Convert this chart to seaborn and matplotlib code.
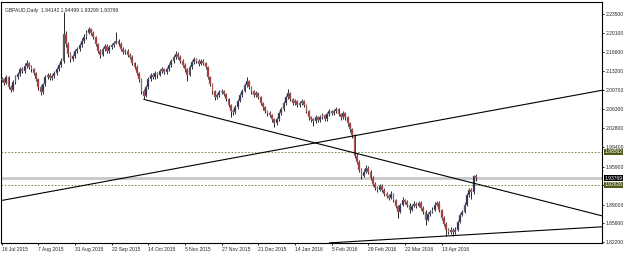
import numpy as np
import pandas as pd
import matplotlib
matplotlib.use("Agg")
import matplotlib.pyplot as plt
import matplotlib.transforms as mtransforms
import seaborn as sns

# GBPAUD daily OHLC (16 Jul 2015 .. early May 2016)
opens = [2.1150, 2.1170, 2.1097, 2.1206, 2.1024, 2.0970, 2.1115, 2.1206, 2.1260, 2.1351,
         2.1315, 2.1406, 2.1460, 2.1388, 2.1351, 2.1279, 2.1170, 2.1024, 2.0933, 2.1079,
         2.1206, 2.1242, 2.1188, 2.1224, 2.1279, 2.1351, 2.1424, 2.1497, 2.1987, 2.1805,
         2.1624, 2.1533, 2.1587, 2.1678, 2.1715, 2.1787, 2.1860, 2.1933, 2.2005, 2.2078,
         2.2005, 2.1933, 2.1805, 2.1678, 2.1606, 2.1715, 2.1769, 2.1678, 2.1751, 2.1787,
         2.1824, 2.1860, 2.1805, 2.1715, 2.1660, 2.1678, 2.1606, 2.1569, 2.1460, 2.1388,
         2.1279, 2.1170, 2.0951, 2.0861, 2.1024, 2.1170, 2.1242, 2.1206, 2.1279, 2.1242,
         2.1315, 2.1351, 2.1297, 2.1351, 2.1424, 2.1497, 2.1569, 2.1624, 2.1569, 2.1497,
         2.1424, 2.1351, 2.1242, 2.1388, 2.1478, 2.1533, 2.1497, 2.1442, 2.1497, 2.1460,
         2.1388, 2.1206, 2.1079, 2.0951, 2.0842, 2.0879, 2.0933, 2.0951, 2.0897, 2.0806,
         2.0697, 2.0588, 2.0570, 2.0661, 2.0770, 2.0879, 2.0951, 2.1060, 2.1133, 2.1024,
         2.0951, 2.0879, 2.0915, 2.0842, 2.0733, 2.0661, 2.0588, 2.0552, 2.0515, 2.0443,
         2.0370, 2.0443, 2.0552, 2.0624, 2.0733, 2.0842, 2.0915, 2.0806, 2.0733, 2.0770,
         2.0697, 2.0733, 2.0770, 2.0697, 2.0588, 2.0479, 2.0443, 2.0406, 2.0479, 2.0425,
         2.0479, 2.0515, 2.0443, 2.0534, 2.0588, 2.0552, 2.0588, 2.0624, 2.0534, 2.0479,
         2.0552, 2.0479, 2.0370, 2.0261, 2.0152, 1.9789, 1.9680, 1.9534, 1.9425, 1.9498,
         1.9571, 1.9498, 1.9389, 1.9280, 1.9207, 1.9171, 1.9243, 1.9171, 1.9098, 1.9062,
         1.9026, 1.9098, 1.8989, 1.8881, 1.8772, 1.8899, 1.8989, 1.8953, 1.8899, 1.8808,
         1.8881, 1.8917, 1.8881, 1.8935, 1.8844, 1.8772, 1.8626, 1.8735, 1.8772, 1.8808,
         1.8899, 1.8935, 1.8808, 1.8662, 1.8553, 1.8444, 1.8408, 1.8444, 1.8408, 1.8444,
         1.8590, 1.8717, 1.8772, 1.8899, 1.9080, 1.9171, 1.9135, 1.94142]
highs = [2.1215, 2.1200, 2.1240, 2.1230, 2.1060, 2.1150, 2.1250, 2.1300, 2.1400, 2.1390,
         2.1460, 2.1510, 2.1490, 2.1420, 2.1380, 2.1300, 2.1200, 2.1060, 2.1110, 2.1240,
         2.1290, 2.1280, 2.1270, 2.1320, 2.1400, 2.1470, 2.1560, 2.2386, 2.2050, 2.1840,
         2.1660, 2.1630, 2.1720, 2.1760, 2.1830, 2.1910, 2.1980, 2.2060, 2.2120, 2.2100,
         2.2040, 2.1960, 2.1830, 2.1710, 2.1750, 2.1810, 2.1800, 2.1790, 2.1830, 2.1870,
         2.2020, 2.1890, 2.1840, 2.1750, 2.1720, 2.1710, 2.1640, 2.1600, 2.1490, 2.1420,
         2.1300, 2.1200, 2.0990, 2.1060, 2.1210, 2.1290, 2.1280, 2.1320, 2.1310, 2.1360,
         2.1400, 2.1380, 2.1390, 2.1470, 2.1540, 2.1610, 2.1680, 2.1660, 2.1600, 2.1530,
         2.1460, 2.1380, 2.1420, 2.1520, 2.1580, 2.1560, 2.1530, 2.1540, 2.1530, 2.1490,
         2.1410, 2.1230, 2.1100, 2.0980, 2.0920, 2.0970, 2.0990, 2.0980, 2.0920, 2.0830,
         2.0720, 2.0630, 2.0700, 2.0810, 2.0920, 2.0990, 2.1100, 2.1206, 2.1160, 2.1050,
         2.0980, 2.0950, 2.0940, 2.0870, 2.0760, 2.0690, 2.0620, 2.0590, 2.0540, 2.0470,
         2.0480, 2.0590, 2.0660, 2.0770, 2.0880, 2.0988, 2.0940, 2.0830, 2.0810, 2.0800,
         2.0770, 2.0810, 2.0800, 2.0720, 2.0610, 2.0510, 2.0470, 2.0520, 2.0510, 2.0520,
         2.0560, 2.0540, 2.0570, 2.0630, 2.0620, 2.0630, 2.0661, 2.0650, 2.0560, 2.0590,
         2.0580, 2.0500, 2.0400, 2.0290, 2.0180, 1.9830, 1.9710, 1.9560, 1.9540, 1.9610,
         1.9600, 1.9520, 1.9420, 1.9310, 1.9240, 1.9280, 1.9270, 1.9200, 1.9130, 1.9090,
         1.9140, 1.9120, 1.9010, 1.8900, 1.8930, 1.9030, 1.9010, 1.8980, 1.8930, 1.8920,
         1.8960, 1.8950, 1.8970, 1.8960, 1.8870, 1.8800, 1.8770, 1.8810, 1.8850, 1.8940,
         1.8970, 1.8960, 1.8830, 1.8690, 1.8580, 1.8480, 1.8490, 1.8470, 1.8490, 1.8630,
         1.8750, 1.8810, 1.8940, 1.9120, 1.9210, 1.9200, 1.9440, 1.94499]
lows = [2.1120, 2.1060, 2.1080, 2.0990, 2.0930, 2.0955, 2.1090, 2.1170, 2.1230, 2.1280,
        2.1290, 2.1380, 2.1350, 2.1300, 2.1240, 2.1130, 2.0980, 2.0880, 2.0910, 2.1050,
        2.1180, 2.1150, 2.1160, 2.1200, 2.1250, 2.1320, 2.1400, 2.1470, 2.1760, 2.1580,
        2.1480, 2.1500, 2.1560, 2.1650, 2.1690, 2.1760, 2.1830, 2.1900, 2.1980, 2.1970,
        2.1890, 2.1770, 2.1640, 2.1560, 2.1590, 2.1690, 2.1640, 2.1650, 2.1720, 2.1760,
        2.1800, 2.1770, 2.1680, 2.1620, 2.1630, 2.1570, 2.1530, 2.1420, 2.1350, 2.1240,
        2.1120, 2.0910, 2.0806, 2.0840, 2.1000, 2.1140, 2.1170, 2.1180, 2.1200, 2.1220,
        2.1290, 2.1260, 2.1270, 2.1320, 2.1400, 2.1470, 2.1540, 2.1530, 2.1460, 2.1390,
        2.1310, 2.1133, 2.1220, 2.1360, 2.1450, 2.1460, 2.1410, 2.1420, 2.1430, 2.1350,
        2.1170, 2.1040, 2.0910, 2.0800, 2.0810, 2.0850, 2.0900, 2.0860, 2.0770, 2.0660,
        2.0479, 2.0520, 2.0540, 2.0640, 2.0750, 2.0850, 2.0930, 2.1030, 2.0990, 2.0910,
        2.0840, 2.0850, 2.0810, 2.0700, 2.0620, 2.0550, 2.0510, 2.0480, 2.0400, 2.0297,
        2.0340, 2.0420, 2.0520, 2.0600, 2.0710, 2.0820, 2.0770, 2.0700, 2.0700, 2.0660,
        2.0670, 2.0700, 2.0660, 2.0550, 2.0440, 2.0400, 2.0320, 2.0380, 2.0390, 2.0400,
        2.0450, 2.0410, 2.0420, 2.0500, 2.0520, 2.0520, 2.0560, 2.0500, 2.0440, 2.0450,
        2.0440, 2.0330, 2.0220, 2.0100, 1.9740, 1.9630, 1.9490, 1.9370, 1.9400, 1.9470,
        1.9460, 1.9350, 1.9240, 1.9170, 1.9130, 1.9140, 1.9130, 1.9060, 1.9020, 1.8990,
        1.9000, 1.8950, 1.8840, 1.8662, 1.8750, 1.8870, 1.8920, 1.8860, 1.8750, 1.8780,
        1.8850, 1.8840, 1.8850, 1.8810, 1.8730, 1.8535, 1.8600, 1.8700, 1.8740, 1.8780,
        1.8870, 1.8770, 1.8620, 1.8510, 1.8335, 1.8360, 1.8370, 1.8340, 1.8360, 1.8420,
        1.8560, 1.8690, 1.8740, 1.8870, 1.9040, 1.8998, 1.9100, 1.93299]
closes = [2.1170, 2.1097, 2.1206, 2.1024, 2.0970, 2.1115, 2.1206, 2.1260, 2.1351, 2.1315,
          2.1406, 2.1460, 2.1388, 2.1351, 2.1279, 2.1170, 2.1024, 2.0933, 2.1079, 2.1206,
          2.1242, 2.1188, 2.1224, 2.1279, 2.1351, 2.1424, 2.1497, 2.1987, 2.1805, 2.1624,
          2.1533, 2.1587, 2.1678, 2.1715, 2.1787, 2.1860, 2.1933, 2.2005, 2.2078, 2.2005,
          2.1933, 2.1805, 2.1678, 2.1606, 2.1715, 2.1769, 2.1678, 2.1751, 2.1787, 2.1824,
          2.1860, 2.1805, 2.1715, 2.1660, 2.1678, 2.1606, 2.1569, 2.1460, 2.1388, 2.1279,
          2.1170, 2.0951, 2.0861, 2.1024, 2.1170, 2.1242, 2.1206, 2.1279, 2.1242, 2.1315,
          2.1351, 2.1297, 2.1351, 2.1424, 2.1497, 2.1569, 2.1624, 2.1569, 2.1497, 2.1424,
          2.1351, 2.1242, 2.1388, 2.1478, 2.1533, 2.1497, 2.1442, 2.1497, 2.1460, 2.1388,
          2.1206, 2.1079, 2.0951, 2.0842, 2.0879, 2.0933, 2.0951, 2.0897, 2.0806, 2.0697,
          2.0588, 2.0570, 2.0661, 2.0770, 2.0879, 2.0951, 2.1060, 2.1133, 2.1024, 2.0951,
          2.0879, 2.0915, 2.0842, 2.0733, 2.0661, 2.0588, 2.0552, 2.0515, 2.0443, 2.0370,
          2.0443, 2.0552, 2.0624, 2.0733, 2.0842, 2.0915, 2.0806, 2.0733, 2.0770, 2.0697,
          2.0733, 2.0770, 2.0697, 2.0588, 2.0479, 2.0443, 2.0406, 2.0479, 2.0425, 2.0479,
          2.0515, 2.0443, 2.0534, 2.0588, 2.0552, 2.0588, 2.0624, 2.0534, 2.0479, 2.0552,
          2.0479, 2.0370, 2.0261, 2.0152, 1.9789, 1.9680, 1.9534, 1.9425, 1.9498, 1.9571,
          1.9498, 1.9389, 1.9280, 1.9207, 1.9171, 1.9243, 1.9171, 1.9098, 1.9062, 1.9026,
          1.9098, 1.8989, 1.8881, 1.8772, 1.8899, 1.8989, 1.8953, 1.8899, 1.8808, 1.8881,
          1.8917, 1.8881, 1.8935, 1.8844, 1.8772, 1.8626, 1.8735, 1.8772, 1.8808, 1.8899,
          1.8935, 1.8808, 1.8662, 1.8553, 1.8444, 1.8408, 1.8444, 1.8408, 1.8444, 1.8590,
          1.8717, 1.8772, 1.8899, 1.9080, 1.9171, 1.9135, 1.9414, 1.93769]

# trendlines as (bar index, price) pairs
rise_x, rise_y = [0, 262], [1.8976, 2.0970]
fall_x, fall_y = [62, 262], [2.0806, 1.8698]
base_x, base_y = [143, 262], [1.8208, 1.8499]

# horizontal levels
levels = [1.98562, 1.92626]
bid = 1.93769
title = "GBPAUD,Daily  1.94142 1.94499 1.93299 1.93769"

yticks = [2.235, 2.201, 2.166, 2.132, 2.097, 2.063, 2.028, 1.994, 1.959, 1.925, 1.890, 1.856, 1.822]

n = len(closes)
dates = pd.bdate_range("2015-07-16", periods=n, freq="C", holidays=["2015-12-25", "2016-01-01"])
df = pd.DataFrame({"i": np.arange(n), "open": opens, "high": highs, "low": lows, "close": closes})

sns.set_style("white")
plt.rcParams["font.family"] = ["Liberation Sans", "DejaVu Sans"]
fs = 3.6

fig = plt.figure(figsize=(6.25, 2.56), dpi=100)
ax = fig.add_axes([1 / 625, 13 / 256, 601 / 625, 241 / 256])

# candles
up = df["close"] >= df["open"]
ax.vlines(df["i"], df["low"], df["high"], color="black", lw=0.6, zorder=3)
body = (df["close"] - df["open"]).abs().clip(lower=0.0008)
bottom = df[["open", "close"]].min(axis=1)
ax.bar(df["i"], body, bottom=bottom, width=0.8,
       color=np.where(up, "#101048", "#b01818"), edgecolor="#a8a8a8", lw=0.35, zorder=4)

# levels
for lv in levels:
    ax.axhline(lv, color="#6b7b2b", lw=0.6, ls=(0, (2, 2)), zorder=2)
ax.axhline(bid, color="#c8c8c8", lw=2.0, zorder=1)

# trendlines
for lx, ly in [(rise_x, rise_y), (fall_x, fall_y), (base_x, base_y)]:
    sns.lineplot(x=lx, y=ly, ax=ax, color="black", lw=0.8, zorder=5)

ax.set_xlim(-0.3, 262)
ax.set_ylim(1.8206, 2.2568)
ax.set_xlabel("")
ax.set_ylabel("")

# axes decoration
for s in ax.spines.values():
    s.set_color("black")
    s.set_linewidth(0.8)
ax.yaxis.tick_right()
ax.set_yticks(yticks)
ax.set_yticklabels([f"{v:.5f}" for v in yticks], fontsize=fs)
xt = list(range(0, n, 16))
ax.set_xticks(xt)
ax.set_xticklabels([f"{d.day} {d.strftime('%b %Y')}" for d in dates[xt]], fontsize=fs, ha="left")
ax.tick_params(axis="both", length=1.6, width=0.6, color="black", pad=1.0)
ax.tick_params(axis="y", right=True, left=False)
ax.tick_params(axis="x", bottom=True)

ax.text(0.006, 0.975, title, transform=ax.transAxes, fontsize=fs, va="top", ha="left")

# price labels on the right axis
trans = mtransforms.blended_transform_factory(ax.transAxes, ax.transData)
for val, fc in [(levels[0], "#4c5a1c"), (levels[1], "#4c5a1c"), (bid, "black")]:
    ax.text(1.004, val, f"{val:.5f}", transform=trans, fontsize=fs, color="white",
            va="center", ha="left", clip_on=False, zorder=10,
            bbox=dict(boxstyle="square,pad=0.12", fc=fc, ec="none"))

fig.savefig("out.png", dpi=100)
